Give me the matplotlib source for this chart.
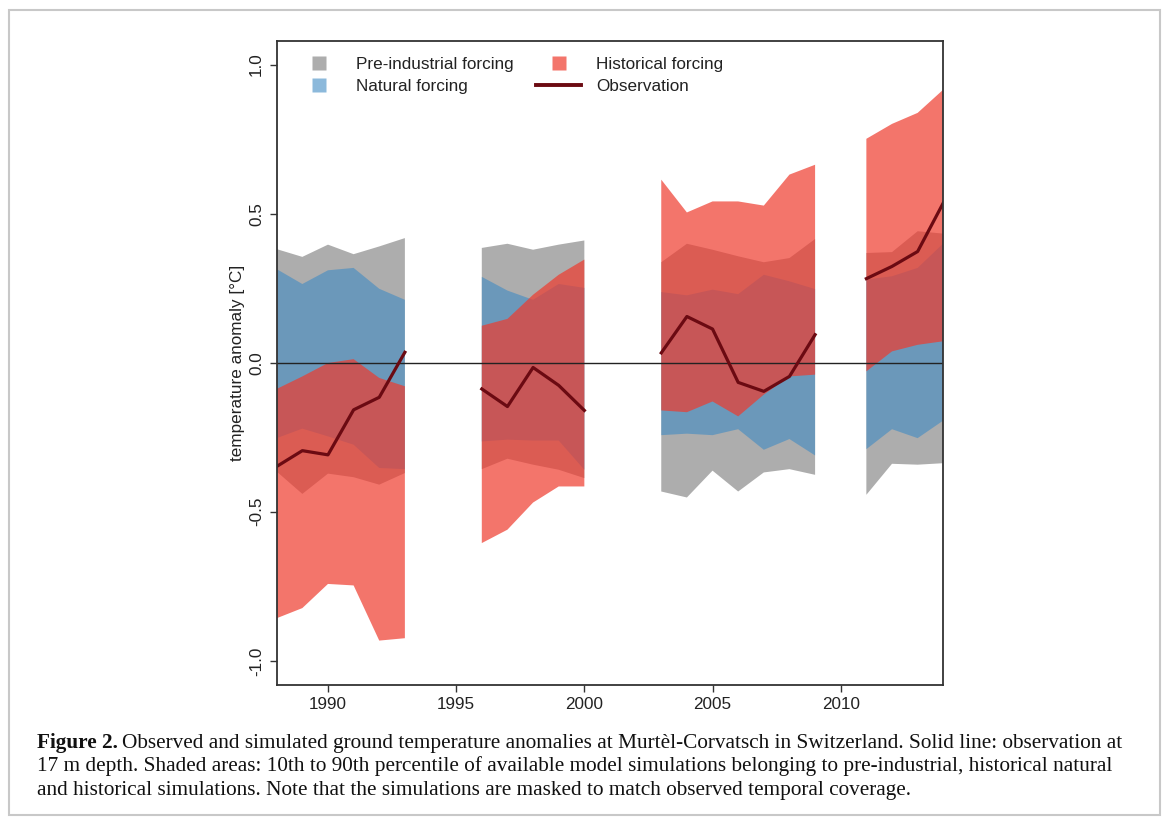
import matplotlib
matplotlib.use("Agg")
import matplotlib.pyplot as plt
import numpy as np
from matplotlib.lines import Line2D
from matplotlib.patches import Rectangle

nan = np.nan
years = np.arange(1988, 2015)

# 10th-90th percentile bands, masked (NaN) where there is no observation
pre_hi = [0.381, 0.355, 0.396, 0.364, 0.390, 0.418, nan, nan,
          0.385, 0.399, 0.379, 0.396, 0.410, nan, nan,
          0.337, 0.399, 0.379, 0.357, 0.337, 0.351, 0.415, nan,
          0.368, 0.371, 0.441, 0.433]
pre_lo = [-0.365, -0.440, -0.372, -0.384, -0.409, -0.370, nan, nan,
          -0.357, -0.322, -0.342, -0.359, -0.387, nan, nan,
          -0.432, -0.452, -0.362, -0.432, -0.368, -0.357, -0.376, nan,
          -0.443, -0.339, -0.342, -0.337]
nat_hi = [0.314, 0.264, 0.310, 0.318, 0.248, 0.211, nan, nan,
          0.288, 0.242, 0.211, 0.264, 0.251, nan, nan,
          0.237, 0.226, 0.245, 0.230, 0.295, 0.273, 0.247, nan,
          0.279, 0.290, 0.318, 0.400]
nat_lo = [-0.253, -0.221, -0.247, -0.275, -0.353, -0.357, nan, nan,
          -0.264, -0.258, -0.261, -0.261, -0.359, nan, nan,
          -0.243, -0.238, -0.243, -0.223, -0.292, -0.256, -0.311, nan,
          -0.290, -0.223, -0.253, -0.194]
hist_hi = [-0.088, -0.046, -0.001, 0.012, -0.051, -0.079, nan, nan,
           0.124, 0.147, 0.228, 0.295, 0.346, nan, nan,
           0.614, 0.504, 0.541, 0.541, 0.527, 0.631, 0.664, nan,
           0.751, 0.801, 0.838, 0.916]
hist_lo = [-0.857, -0.823, -0.742, -0.747, -0.932, -0.924, nan, nan,
           -0.605, -0.560, -0.469, -0.415, -0.415, nan, nan,
           -0.160, -0.166, -0.130, -0.180, -0.107, -0.046, -0.040, nan,
           -0.029, 0.038, 0.060, 0.072]
obs = [-0.348, -0.295, -0.309, -0.158, -0.116, 0.035, nan, nan,
       -0.088, -0.147, -0.016, -0.076, -0.160, nan, nan,
       0.033, 0.155, 0.113, -0.066, -0.096, -0.046, 0.094, nan,
       0.282, 0.323, 0.373, 0.536]

labels = ["Pre-industrial forcing", "Natural forcing", "Historical forcing", "Observation"]
gray = (0.68, 0.68, 0.68, 1.0)
blue = (63 / 255, 139 / 255, 196 / 255, 0.6)
red = (239 / 255, 58 / 255, 45 / 255, 0.7)
obs_col = "#6b0a12"
txt = "#222222"

plt.rcParams["font.family"] = ["Liberation Sans", "DejaVu Sans"]

fig = plt.figure(figsize=(11.68, 8.21), dpi=100)
ax = fig.add_axes([0.2369, 0.166, 0.5707, 0.7844])

ax.fill_between(years, pre_lo, pre_hi, facecolor=gray, linewidth=0)
ax.fill_between(years, nat_lo, nat_hi, facecolor=blue, linewidth=0)
ax.fill_between(years, hist_lo, hist_hi, facecolor=red, linewidth=0)
ax.axhline(0, color="#222222", lw=1)
ax.plot(years, obs, color=obs_col, lw=2.3)

ax.set_xlim(1988, 2014)
ax.set_ylim(-1.08, 1.08)
ax.set_xticks([1990, 1995, 2000, 2005, 2010])
ax.set_yticks([-1.0, -0.5, 0.0, 0.5, 1.0])
ax.set_yticklabels(["-1.0", "-0.5", "0.0", "0.5", "1.0"], rotation=90, va="center")
ax.tick_params(length=5, width=1, color="#333333", labelsize=12.3, labelcolor=txt)
ax.tick_params(axis="x", pad=4)
ax.tick_params(axis="y", pad=4)
for s in ax.spines.values():
    s.set_linewidth(1.3)
    s.set_color("#333333")
ax.set_ylabel("temperature anomaly [°C]", fontsize=12.3, color=txt, labelpad=3)

handles = [
    Line2D([], [], ls="none", marker="s", ms=9.5, mfc=gray, mec="none"),
    Line2D([], [], ls="none", marker="s", ms=9.5, mfc=blue, mec="none"),
    Line2D([], [], ls="none", marker="s", ms=9.5, mfc=red, mec="none"),
    Line2D([], [], color=obs_col, lw=2.8),
]
ax.legend(handles, labels, ncol=2, frameon=False, loc="upper left",
          bbox_to_anchor=(0.03, 0.974), fontsize=12.3, handlelength=2.6,
          handletextpad=0.9, columnspacing=1.3, labelspacing=0.38,
          borderpad=0, borderaxespad=0, labelcolor=txt)

# caption box
fig.patches.append(Rectangle((9 / 1168, 6 / 821), 1151 / 1168, 805 / 821,
                             transform=fig.transFigure, fill=False,
                             edgecolor="#c8c8c8", lw=1.5))

serif = ["Liberation Serif", "DejaVu Serif"]
cap_size = 15.3
x0 = 37 / 1168
lines_y = [1 - 743 / 821, 1 - 766 / 821, 1 - 790 / 821]
tb = fig.text(x0, lines_y[0], "Figure 2.", family=serif, weight="bold",
              fontsize=cap_size, va="center", color="#111111")
fig.canvas.draw()
bb = tb.get_window_extent(fig.canvas.get_renderer())
fig.text(bb.x1 / 1168 + 4 / 1168, lines_y[0],
         "Observed and simulated ground temperature anomalies at Murtèl-Corvatsch in Switzerland. Solid line: observation at",
         family=serif, fontsize=cap_size, va="center", color="#111111")
fig.text(x0, lines_y[1],
         "17 m depth. Shaded areas: 10th to 90th percentile of available model simulations belonging to pre-industrial, historical natural",
         family=serif, fontsize=cap_size, va="center", color="#111111")
fig.text(x0, lines_y[2],
         "and historical simulations. Note that the simulations are masked to match observed temporal coverage.",
         family=serif, fontsize=cap_size, va="center", color="#111111")

fig.savefig("out.png", dpi=100)
